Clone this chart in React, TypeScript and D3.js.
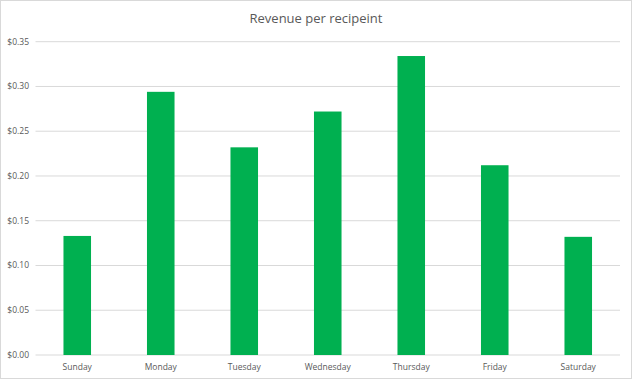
import React from "react";
import * as d3 from "d3";

const days = ["Sunday", "Monday", "Tuesday", "Wednesday", "Thursday", "Friday", "Saturday"];
const revenue = [0.133, 0.294, 0.232, 0.272, 0.334, 0.212, 0.132];
const yTicks = [0, 0.05, 0.1, 0.15, 0.2, 0.25, 0.3, 0.35];
const title = "Revenue per recipeint";

const W = 632;
const H = 379;
const left = 35.5;
const right = 620;
const top = 41.7;
const bottom = 355;
const font = "'Open Sans', 'Liberation Sans', sans-serif";

export default function App() {
  const x = d3.scaleBand<string>().domain(days).range([left, right]).paddingInner(0.67).paddingOuter(0.335);
  const y = d3.scaleLinear().domain([0, 0.35]).range([bottom, top]);
  const fmt = d3.format("$.2f");
  return (
    <svg width={W} height={H} style={{ position: "fixed", left: 0, top: 0, background: "#fff" }}>
      <rect x={0.5} y={0.5} width={W - 1} height={H - 1} fill="#fff" stroke="#d9d9d9" />
      <text x={W / 2} y={23} textAnchor="middle" fontFamily={font} fontSize={13} fill="#595959">
        {title}
      </text>
      {yTicks.map((t) => (
        <g key={t}>
          <line x1={left} x2={right} y1={y(t)} y2={y(t)} stroke="#d9d9d9" strokeWidth={1} />
          <text x={29} y={y(t) + 3} textAnchor="end" fontFamily={font} fontSize={8.5} fill="#595959">
            {fmt(t)}
          </text>
        </g>
      ))}
      {days.map((d, i) => (
        <rect key={d} x={x(d)} y={y(revenue[i])} width={x.bandwidth()} height={bottom - y(revenue[i])} fill="#00b050" />
      ))}
      {days.map((d) => (
        <text key={d} x={(x(d) as number) + x.bandwidth() / 2} y={370} textAnchor="middle" fontFamily={font} fontSize={8.5} fill="#595959">
          {d}
        </text>
      ))}
    </svg>
  );
}
